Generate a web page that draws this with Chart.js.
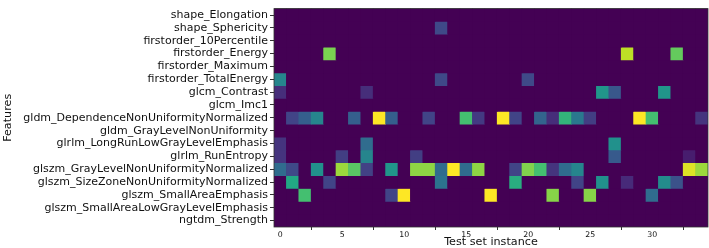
<!DOCTYPE html>
<html>
<head>
<meta charset="utf-8">
<script src="https://cdn.jsdelivr.net/npm/chart.js@4/dist/chart.umd.min.js"></script>
<style>
html,body{margin:0;padding:0;background:#fff;}
canvas{display:block;}
</style>
</head>
<body>
<canvas id="c" width="709" height="248"></canvas>
<script>
// ---- data ----
const features = [
  "shape_Elongation","shape_Sphericity","firstorder_10Percentile","firstorder_Energy",
  "firstorder_Maximum","firstorder_TotalEnergy","glcm_Contrast","glcm_Imc1",
  "gldm_DependenceNonUniformityNormalized","gldm_GrayLevelNonUniformity",
  "glrlm_LongRunLowGrayLevelEmphasis","glrlm_RunEntropy",
  "glszm_GrayLevelNonUniformityNormalized","glszm_SizeZoneNonUniformityNormalized",
  "glszm_SmallAreaEmphasis","glszm_SmallAreaLowGrayLevelEmphasis","ngtdm_Strength"
];
const instances = [0,1,2,3,4,5,6,7,8,9,10,11,12,13,14,15,16,17,18,19,20,21,22,23,24,25,26,27,28,29,30,31,32,33,34];
const xTickValues = [0,5,10,15,20,25,30];
//                          0   1   2   3   4   5   6   7   8   9  10  11  12  13  14  15  16  17  18  19  20  21  22  23  24  25  26  27  28  29  30  31  32  33  34
const row_shape_Elongation   = [0,  0,  0,  0,  0,  0,  0,  0,  0,  0,  0,  0,  0,  0,  0,  0,  0,  0,  0,  0,  0,  0,  0,  0,  0,  0,  0,  0,  0,  0,  0,  0,  0,  0,  0];
const row_shape_Sphericity   = [0,  0,  0,  0,  0,  0,  0,  0,  0,  0,  0,  0,  0,.22,  0,  0,  0,  0,  0,  0,  0,  0,  0,  0,  0,  0,  0,  0,  0,  0,  0,  0,  0,  0,  0];
const row_fo_10Percentile    = [0,  0,  0,  0,  0,  0,  0,  0,  0,  0,  0,  0,  0,  0,  0,  0,  0,  0,  0,  0,  0,  0,  0,  0,  0,  0,  0,  0,  0,  0,  0,  0,  0,  0,  0];
const row_fo_Energy          = [0,  0,  0,  0,.80,  0,  0,  0,  0,  0,  0,  0,  0,  0,  0,  0,  0,  0,  0,  0,  0,  0,  0,  0,  0,  0,  0,  0,.90,  0,  0,  0,.76,  0,  0];
const row_fo_Maximum         = [0,  0,  0,  0,  0,  0,  0,  0,  0,  0,  0,  0,  0,  0,  0,  0,  0,  0,  0,  0,  0,  0,  0,  0,  0,  0,  0,  0,  0,  0,  0,  0,  0,  0,  0];
const row_fo_TotalEnergy     = [.45,0,  0,  0,  0,  0,  0,  0,  0,  0,  0,  0,  0,.22,  0,  0,  0,  0,  0,  0,.22,  0,  0,  0,  0,  0,  0,  0,  0,  0,  0,  0,  0,  0,  0];
const row_glcm_Contrast      = [.13,0,  0,  0,  0,  0,  0,.13,  0,  0,  0,  0,  0,  0,  0,  0,  0,  0,  0,  0,  0,  0,  0,  0,  0,  0,.52,.27,  0,  0,  0,.52,  0,  0,  0];
const row_glcm_Imc1          = [0,  0,  0,  0,  0,  0,  0,  0,  0,  0,  0,  0,  0,  0,  0,  0,  0,  0,  0,  0,  0,  0,  0,  0,  0,  0,  0,  0,  0,  0,  0,  0,  0,  0,  0];
const row_gldm_DNUN          = [0,.20,.30,.45,  0,  0,.30,  0,1.0,.30,  0,  0,.20,  0,  0,.70,.17,  0,1.0,.20,  0,.32,.13,.65,.40,.18,  0,  0,  0,1.0,.70,  0,  0,  0,.15];
const row_gldm_GLNU          = [0,  0,  0,  0,  0,  0,  0,  0,  0,  0,  0,  0,  0,  0,  0,  0,  0,  0,  0,  0,  0,  0,  0,  0,  0,  0,  0,  0,  0,  0,  0,  0,  0,  0,  0];
const row_glrlm_LRLGLE       = [.15,0,  0,  0,  0,  0,  0,.35,  0,  0,  0,  0,  0,  0,  0,  0,  0,  0,  0,  0,  0,  0,  0,  0,  0,  0,  0,.50,  0,  0,  0,  0,  0,  0,  0];
const row_glrlm_RunEntropy   = [.15,0,  0,  0,  0,.18,  0,.45,  0,  0,  0,.18,  0,  0,  0,  0,  0,  0,  0,  0,  0,  0,  0,  0,  0,  0,  0,.28,  0,  0,  0,  0,  0,.08,  0];
const row_glszm_GLNUN        = [.35,.22,0,.50,  0,.85,.74,.19,  0,.52,  0,.83,.83,.35,1.0,.35,.83,  0,  0,.20,.81,.70,.15,.35,.45,  0,  0,  0,  0,  0,  0,  0,  0,.95,.85];
const row_glszm_SZNUN        = [0,.60,  0,  0,.20,  0,  0,  0,  0,  0,  0,  0,  0,.38,  0,  0,  0,  0,  0,.62,  0,  0,  0,  0,.20,  0,.50,  0,.12,  0,  0,.48,.25,  0,  0];
const row_glszm_SAE          = [0,  0,.70,  0,  0,  0,  0,  0,  0,.20,1.0,  0,  0,  0,  0,  0,  0,1.0,  0,  0,  0,  0,.82,  0,  0,.82,  0,  0,  0,  0,.35,  0,  0,  0,  0];
const row_glszm_SALGLE       = [0,  0,  0,  0,  0,  0,  0,  0,  0,  0,  0,  0,  0,  0,  0,  0,  0,  0,  0,  0,  0,  0,  0,  0,  0,  0,  0,  0,  0,  0,  0,  0,  0,  0,  0];
const row_ngtdm_Strength     = [0,  0,  0,  0,  0,  0,  0,  0,  0,  0,  0,  0,  0,  0,  0,  0,  0,  0,  0,  0,  0,  0,  0,  0,  0,  0,  0,  0,  0,  0,  0,  0,  0,  0,  0];

const rows = [row_shape_Elongation,row_shape_Sphericity,row_fo_10Percentile,row_fo_Energy,
  row_fo_Maximum,row_fo_TotalEnergy,row_glcm_Contrast,row_glcm_Imc1,row_gldm_DNUN,row_gldm_GLNU,
  row_glrlm_LRLGLE,row_glrlm_RunEntropy,row_glszm_GLNUN,row_glszm_SZNUN,row_glszm_SAE,
  row_glszm_SALGLE,row_ngtdm_Strength];

// ---- viridis colormap ----
const viridisStops = ["#440154","#482475","#414487","#355f8d","#2a788e","#21918c","#22a884","#44bf70","#7ad151","#bddf26","#fde725"];
function hex2rgb(h){return [parseInt(h.slice(1,3),16),parseInt(h.slice(3,5),16),parseInt(h.slice(5,7),16)];}
function viridis(v){
  v = Math.max(0, Math.min(1, v));
  const p = v * (viridisStops.length - 1);
  const i = Math.min(Math.floor(p), viridisStops.length - 2);
  const t = p - i;
  const a = hex2rgb(viridisStops[i]), b = hex2rgb(viridisStops[i+1]);
  const c = a.map((x,k)=>Math.round(x + (b[k]-x)*t));
  return `rgb(${c[0]},${c[1]},${c[2]})`;
}

const datasets = rows.map((vals, r) => ({
  label: features[r],
  data: instances.map((c) => ({x: c, y: [r, r + 1]})),
  backgroundColor: vals.map(viridis),
  borderWidth: 0,
  borderSkipped: false,
  grouped: false,
  barPercentage: 1,
  categoryPercentage: 1
}));

const FONT = "'DejaVu Sans', sans-serif";
const TXT = '#111';

const bgPlugin = {
  id: 'bg',
  beforeDatasetsDraw(chart){
    const {ctx, chartArea:a} = chart;
    ctx.save();
    ctx.fillStyle = viridis(0);
    ctx.fillRect(a.left, a.top, a.right - a.left, a.bottom - a.top);
    ctx.restore();
  },
  afterDraw(chart){
    const {ctx, chartArea:a} = chart;
    ctx.save();
    ctx.strokeStyle = '#333';
    ctx.lineWidth = 0.8;
    ctx.strokeRect(a.left, a.top, a.right - a.left, a.bottom - a.top);
    ctx.restore();
  }
};

new Chart(document.getElementById('c'), {
  type: 'bar',
  data: { datasets },
  plugins: [bgPlugin],
  options: {
    responsive: false,
    animation: false,
    devicePixelRatio: 1,
    layout: { padding: { left: 2, right: 1, top: 1, bottom: 0 } },
    plugins: { legend: { display: false }, tooltip: { enabled: false } },
    scales: {
      x: {
        type: 'linear',
        min: -0.5, max: 34.5,
        offset: false,
        afterBuildTicks(scale){ scale.ticks = xTickValues.map(v => ({value: v})); },
        afterFit(scale){ scale.height = 21; },
        grid: { display: true, drawOnChartArea: false, drawTicks: true, tickLength: 3, color: '#333' },
        border: { display: false },
        ticks: { font: { family: FONT, size: 7.8 }, color: TXT, padding: 0, maxRotation: 0, autoSkip: false,
                 callback: (v) => String(v) },
        title: { display: true, text: 'Test set instance', font: { family: FONT, size: 11.2, lineHeight: 1.1 },
                 color: TXT, padding: { top: 0, bottom: 0 } }
      },
      y: {
        type: 'linear',
        min: 0, max: 17,
        reverse: true,
        afterBuildTicks(scale){ scale.ticks = features.map((f, i) => ({value: i + 0.5})); },
        afterFit(scale){ scale.width = 272; },
        grid: { display: true, drawOnChartArea: false, drawTicks: true, tickLength: 4, color: '#333' },
        border: { display: false },
        ticks: { font: { family: FONT, size: 11 }, color: TXT, padding: 2, autoSkip: false,
                 callback: (v) => features[Math.floor(v)] },
        title: { display: true, text: 'Features', font: { family: FONT, size: 11.2, lineHeight: 1.1 },
                 color: TXT, padding: { top: 0, bottom: 0 } }
      }
    }
  }
});
</script>
</body>
</html>
